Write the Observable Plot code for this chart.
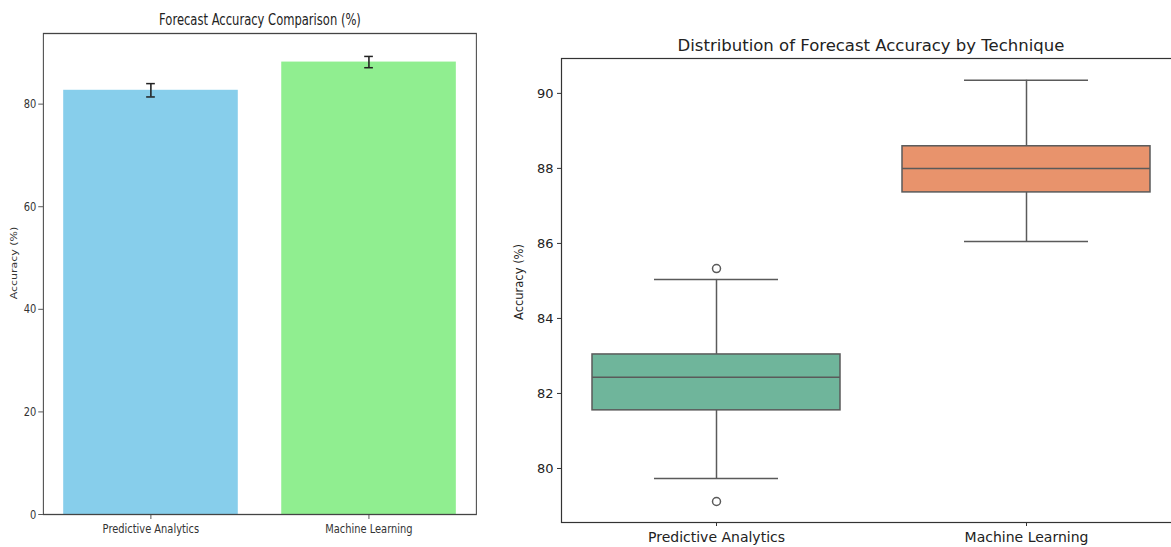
<!DOCTYPE html>
<html>
<head>
<meta charset="utf-8">
<script src="https://cdn.jsdelivr.net/npm/d3@7"></script>
<script src="https://cdn.jsdelivr.net/npm/@observablehq/plot@0.6"></script>
<style>
  html, body { margin: 0; padding: 0; background: #fff; }
  #wrap { position: relative; width: 1171px; height: 547px; overflow: hidden; background: #fff; }
  .panel { position: absolute; top: 0; }
  .panel svg { max-width: none !important; display: block; }
  #left { width: 608px; transform: scaleX(0.79); transform-origin: 0 0; }
  #right { width: 681px; }
  .title { position: absolute; white-space: nowrap; color: #222; }
  #leftTitle { left: 260px; top: 19px; font: 16.5px "DejaVu Sans", sans-serif; transform: translate(-50%, -50%) scaleX(0.70); }
  #rightTitle { left: 871px; top: 45px; font: 16.5px "DejaVu Sans", sans-serif; transform: translate(-50%, -50%); }
</style>
</head>
<body>
<div id="wrap">
  <div id="left" class="panel" style="left:0px"></div>
  <div id="right" class="panel" style="left:500px"></div>
  <div id="leftTitle" class="title">Forecast Accuracy Comparison (%)</div>
  <div id="rightTitle" class="title">Distribution of Forecast Accuracy by Technique</div>
</div>
<script>
// ---- Data ----
const techniques = ["Predictive Analytics", "Machine Learning"];
const meanAccuracy = [82.7, 88.2];
const accuracyError = [1.3, 1.1];
const barColors = ["#87CEEB", "#90EE90"];
const leftYTicks = [0, 20, 40, 60, 80];
const yLabel = ["Accuracy (%)"];

const q1 = [81.55, 87.36];
const median = [82.43, 88.0];
const q3 = [83.04, 88.59];
const whiskerLow = [79.73, 86.05];
const whiskerHigh = [85.04, 90.35];
const boxColors = ["#6fb59b", "#e8936c"];
const outlierTechnique = ["Predictive Analytics", "Predictive Analytics"];
const outlierValues = [85.33, 79.12];
const rightYTicks = [80, 82, 84, 86, 88, 90];

// ---- Tables built from arrays ----
const bars = techniques.map((t, i) => ({
  technique: t, mean: meanAccuracy[i], lo: meanAccuracy[i] - accuracyError[i], hi: meanAccuracy[i] + accuracyError[i], color: barColors[i]
}));
const boxes = techniques.map((t, i) => ({
  technique: t, q1: q1[i], median: median[i], q3: q3[i], lo: whiskerLow[i], hi: whiskerHigh[i], color: boxColors[i]
}));
const outliers = outlierValues.map((v, i) => ({technique: outlierTechnique[i], value: v}));

// ---- Left: bar chart with error bars (drawn wide, then squeezed horizontally) ----
const left = Plot.plot({
  width: 608, height: 547,
  marginLeft: 54.4, marginRight: 5.5, marginTop: 33, marginBottom: 33,
  style: {fontFamily: '"DejaVu Sans", sans-serif', fontSize: "12.5px", color: "#333", background: "transparent"},
  x: {domain: techniques, paddingInner: 0.2, paddingOuter: 0.09},
  y: {domain: [0, 93.77]},
  marks: [
    Plot.barY(bars, {x: "technique", y: "mean", fill: "color"}),
    Plot.ruleX(bars, {x: "technique", y1: "lo", y2: "hi", stroke: "#222", strokeWidth: 2}),
    Plot.tickY(bars, {x: "technique", y: "lo", stroke: "#222", strokeWidth: 1.5, inset: 105}),
    Plot.tickY(bars, {x: "technique", y: "hi", stroke: "#222", strokeWidth: 1.5, inset: 105}),
    Plot.frame({stroke: "#444", strokeWidth: 1.3}),
    Plot.axisY({ticks: leftYTicks, tickSize: 6, tickPadding: 3, label: null, stroke: "#444"}),
    Plot.axisX({tickSize: 5, tickPadding: 5, label: null, stroke: "#444"}),
    Plot.text(yLabel, {frameAnchor: "left", textAnchor: "middle", lineAnchor: "middle", rotate: -90, dx: -37, dy: -11, fontSize: 11, fill: "#333"})
  ]
});
document.getElementById("left").appendChild(left);

// ---- Right: box plot ----
const lineColor = "#5a5a5a";
const right = Plot.plot({
  width: 681, height: 547,
  marginLeft: 61, marginRight: 0, marginTop: 58, marginBottom: 25,
  style: {fontFamily: '"DejaVu Sans", sans-serif', fontSize: "13px", color: "#222", background: "transparent"},
  x: {domain: techniques, paddingInner: 0.2, paddingOuter: 0.1},
  y: {domain: [78.56, 90.93]},
  marks: [
    Plot.ruleX(boxes, {x: "technique", y1: "lo", y2: "q1", stroke: lineColor, strokeWidth: 1.5}),
    Plot.ruleX(boxes, {x: "technique", y1: "q3", y2: "hi", stroke: lineColor, strokeWidth: 1.5}),
    Plot.tickY(boxes, {x: "technique", y: "lo", stroke: lineColor, strokeWidth: 1.5, inset: 62}),
    Plot.tickY(boxes, {x: "technique", y: "hi", stroke: lineColor, strokeWidth: 1.5, inset: 62}),
    Plot.barY(boxes, {x: "technique", y1: "q1", y2: "q3", fill: "color", stroke: lineColor, strokeWidth: 1.5}),
    Plot.tickY(boxes, {x: "technique", y: "median", stroke: lineColor, strokeWidth: 1.5}),
    Plot.dot(outliers, {x: "technique", y: "value", r: 4, stroke: lineColor, strokeWidth: 1.5, fill: "none"}),
    Plot.frame({stroke: "#333", strokeWidth: 1.2}),
    Plot.axisY({ticks: rightYTicks, tickSize: 4, tickPadding: 4, label: null, stroke: "#333"}),
    Plot.axisX({tickSize: 4, tickPadding: 6, label: null, stroke: "#333", fontSize: 14}),
    Plot.text(yLabel, {frameAnchor: "left", textAnchor: "middle", lineAnchor: "middle", rotate: -90, dx: -42, dy: -8.5, fontSize: 11.5, fill: "#222"})
  ]
});
document.getElementById("right").appendChild(right);
</script>
</body>
</html>
